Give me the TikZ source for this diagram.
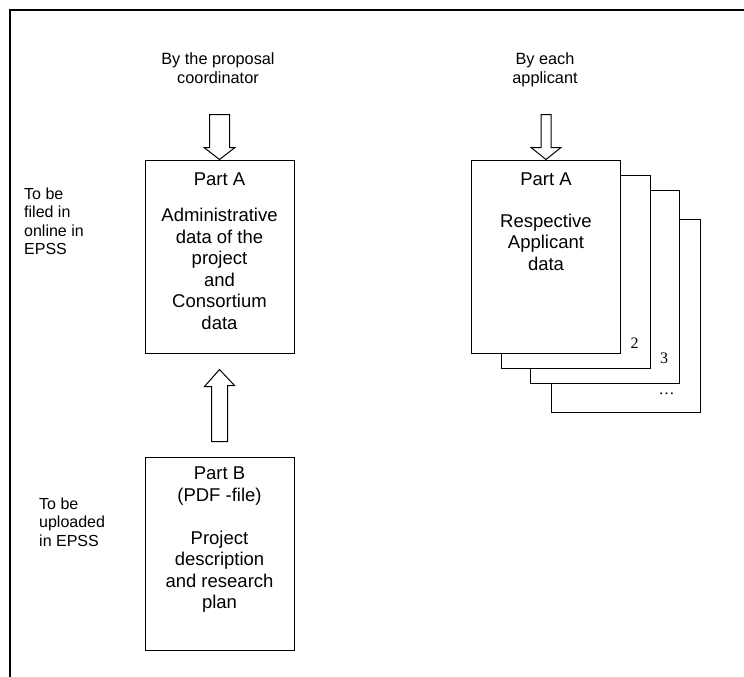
\documentclass[tikz,border=0pt]{standalone}
\usepackage{fontspec}
\setmainfont{Liberation Sans}
\newfontfamily\pagefont{Liberation Serif}
\usepackage{tikz}
\usetikzlibrary{calc}
\tikzstyle{box} = [draw = black, line width = 1pt, fill = white, inner sep = 0pt, minimum width = 149pt, minimum height = 193pt]
\tikzstyle{boxtext} = [inner sep = 0pt, align = center, anchor = north, font = \fontsize{18.5}{21.5}\selectfont]
\tikzstyle{note} = [inner sep = 0pt, align = left, anchor = north west, font = \fontsize{16}{18.5}\selectfont]
\tikzstyle{who} = [inner sep = 0pt, align = center, anchor = north, font = \fontsize{16.3}{19}\selectfont]
\tikzstyle{blockarrow} = [draw = black, line width = 1pt, fill = white, line join = miter]
\tikzstyle{pagenum} = [inner sep = 0pt, font = \pagefont\fontsize{16}{18}\selectfont]

\begin{document}
\begin{tikzpicture}[x = 1pt, y = -1pt]
    \useasboundingbox (0, 0) rectangle (744, 677);
    \draw [line width = 2pt] (10, 677) -- (10, 10) -- (744, 10);

    % left column
    \node (partA) at (219.5, 256.5) [box] {};
    \node (partB) at (219.5, 553.5) [box] {};
    \node (textA) at ($(partA.north) + (0, 13.5)$) [boxtext] {Part A\\[14.5pt]Administrative\\data of the\\project\\and\\Consortium\\data};
    \node (textB) at ($(partB.north) + (0, 10.5)$) [boxtext] {Part B\\(PDF -file)\\[21.5pt]Project\\description\\and research\\plan};
    \node (coord) at (218, 52.2) [who] {By the proposal\\coordinator};
    \node (online) at (24, 187.3) [note] {To be\\filed in\\online in\\EPSS};
    \node (upload) at (39, 497.3) [note] {To be\\uploaded\\in EPSS};

    \draw [blockarrow] (partA.north) -- ++(-15.5, -12) -- ++(5.5, 0) -- ++(0, -33) -- ++(20, 0) -- ++(0, 33) -- ++(5.5, 0) -- cycle;
    \draw [blockarrow] ($(partA.south) + (0, 16)$) -- ++(-15, 17) -- ++(7, 0) -- ($(partB.north) + (-8, -15)$) -- ++(16, 0) -- ++(0, -56) -- ++(7, 0) -- cycle;

    % right column, stacked pages
    \node (page4) at (625.5, 316) [box] {};
    \node (page3) at (605, 286.5) [box] {};
    \node (page2) at (575.5, 271.5) [box] {};
    \node (page1) at (546, 256.5) [box] {};
    \node (textR) at ($(page1.north) + (0, 13.5)$) [boxtext] {Part A\\[20pt]Respective\\Applicant\\data};
    \node (each) at (545, 52.2) [who] {By each\\applicant};
    \node (num2) at ($(page2.south east) + (-16, -25)$) [pagenum] {2};
    \node (num3) at ($(page3.south east) + (-16, -25)$) [pagenum] {3};
    \node (numN) at ($(page4.south east) + (-34, -19)$) [pagenum] {\dots};

    \draw [blockarrow] (page1.north) -- ++(-15, -12) -- ++(10, 0) -- ++(0, -33) -- ++(10, 0) -- ++(0, 33) -- ++(10, 0) -- cycle;
\end{tikzpicture}
\end{document}
